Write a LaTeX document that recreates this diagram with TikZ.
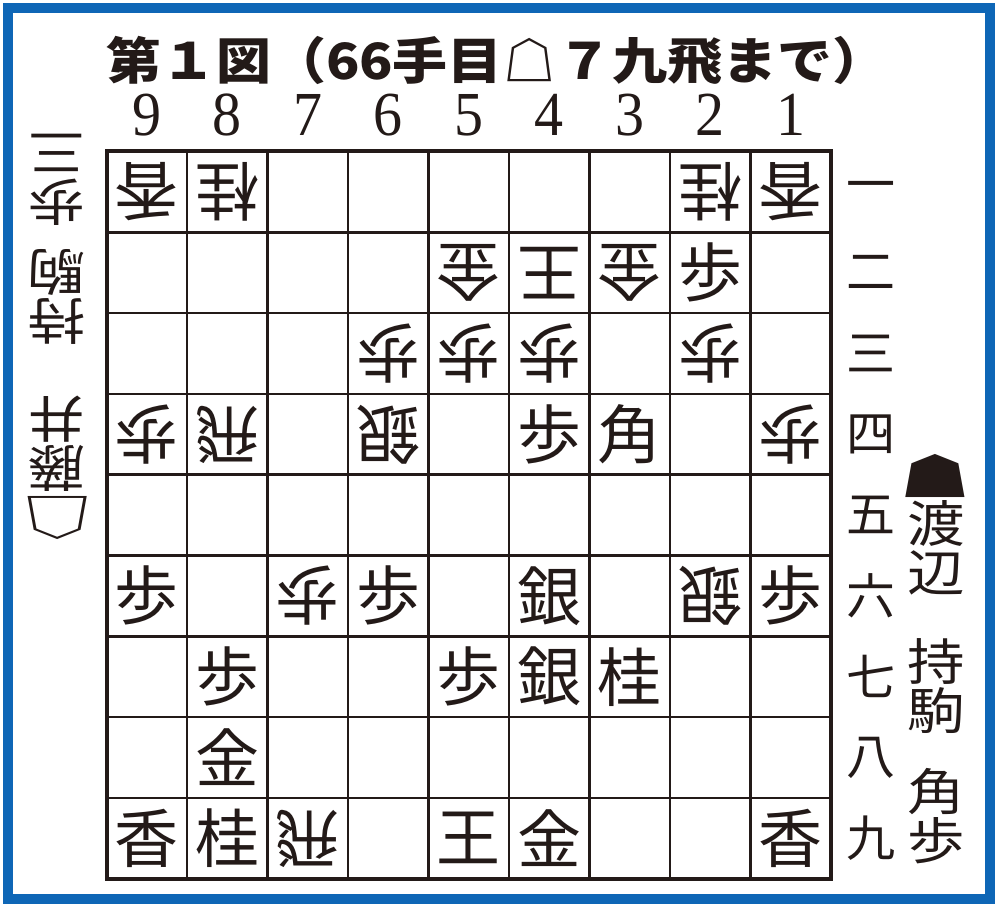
\documentclass[tikz,border=0pt]{standalone}
\usepackage{fontspec}
\setmainfont{Liberation Serif}
\newfontfamily\jp{Noto Sans CJK JP}
\definecolor{frameblue}{RGB}{14,102,182}
\definecolor{ink}{RGB}{35,26,24}
\begin{document}
\begin{tikzpicture}[x=1pt,y=-1pt,
  piece/.style={inner sep=0pt,text=ink,font=\jp\fontsize{64}{64}\selectfont},
  colnum/.style={inner sep=0pt,text=ink,yscale=1.08,font=\fontsize{58}{58}\selectfont},
  rownum/.style={inner sep=0pt,text=ink,font=\jp\fontsize{49}{49}\selectfont},
  side/.style={inner sep=0pt,text=ink,align=center,xscale=1.15,font=\jp\fontsize{50}{49}\selectfont},
  icon/.style={inner sep=0pt,text=ink,xscale=1.5,font=\jp\fontsize{50}{50}\selectfont},
  title/.style={inner sep=0pt,text=ink,font=\jp\bfseries\fontsize{50}{50}\selectfont}]
\useasboundingbox (0,0) rectangle (1000,909);
\fill[white] (0,0) rectangle (1000,909);
\draw[frameblue,line width=10pt] (8,8.5) rectangle (990,899);
% title
\node[title,xscale=1.1] (title) at (497,61) {第１図（66手目☖７九飛まで）};
% column numbers
\foreach \c in {1,...,9} {
  \node[colnum] (c\c) at ({106.5+(9.5-\c)*80.5},115) {\c};
}
% row numbers
\foreach \r/\k in {1/一,2/二,3/三,4/四,5/五,6/六,7/七,8/八,9/九} {
  \node[rownum] (r\r) at (871,{151.5+(\r-0.5)*80.8}) {\k};
}
% board
\coordinate (bTL) at (106.5,151.5);
\coordinate (bBR) at (831,878.7);
\foreach \i in {1,...,8} {
  \draw[ink,line width=2.6pt] ({106.5+\i*80.5},151.5) -- ({106.5+\i*80.5},878.7);
  \draw[ink,line width=2.6pt] (106.5,{151.5+\i*80.8}) -- (831,{151.5+\i*80.8});
}
\draw[ink,line width=4pt] (bTL) rectangle (bBR);
% pieces
\foreach \c/\r/\k/\o in {
  9/1/香/180, 8/1/桂/180, 2/1/桂/180, 1/1/香/180,
  5/2/金/180, 4/2/王/180, 3/2/金/180, 2/2/歩/0,
  6/3/歩/180, 5/3/歩/180, 4/3/歩/180, 2/3/歩/180,
  9/4/歩/180, 8/4/飛/180, 6/4/銀/180, 4/4/歩/0, 3/4/角/0, 1/4/歩/180,
  9/6/歩/0, 7/6/歩/180, 6/6/歩/0, 4/6/銀/0, 2/6/銀/180, 1/6/歩/0,
  8/7/歩/0, 5/7/歩/0, 4/7/銀/0, 3/7/桂/0,
  8/8/金/0,
  9/9/香/0, 8/9/桂/0, 7/9/飛/180, 5/9/王/0, 4/9/金/0, 1/9/香/0} {
  \node[piece,rotate=\o] (p\c\r) at ({106.5+(9.5-\c)*80.5},{151.5+(\r-0.5)*80.8}) {\k};
}
% sente (right)
\node[icon] (sicon) at (936,476) {☗};
\node[side] (sname) at (936,547.5) {渡\\辺};
\node[side] (shand) at (936,751) {持\\駒\\[32pt]角\\歩};
% gote (left, upside down)
\node[icon,rotate=180] (gicon) at (57,518) {☖};
\node[side,rotate=180] (gname) at (57,444) {藤\\井};
\node[side,rotate=180] (ghand) at (57,239) {持\\駒\\[21pt]歩\\三};
\end{tikzpicture}
\end{document}
